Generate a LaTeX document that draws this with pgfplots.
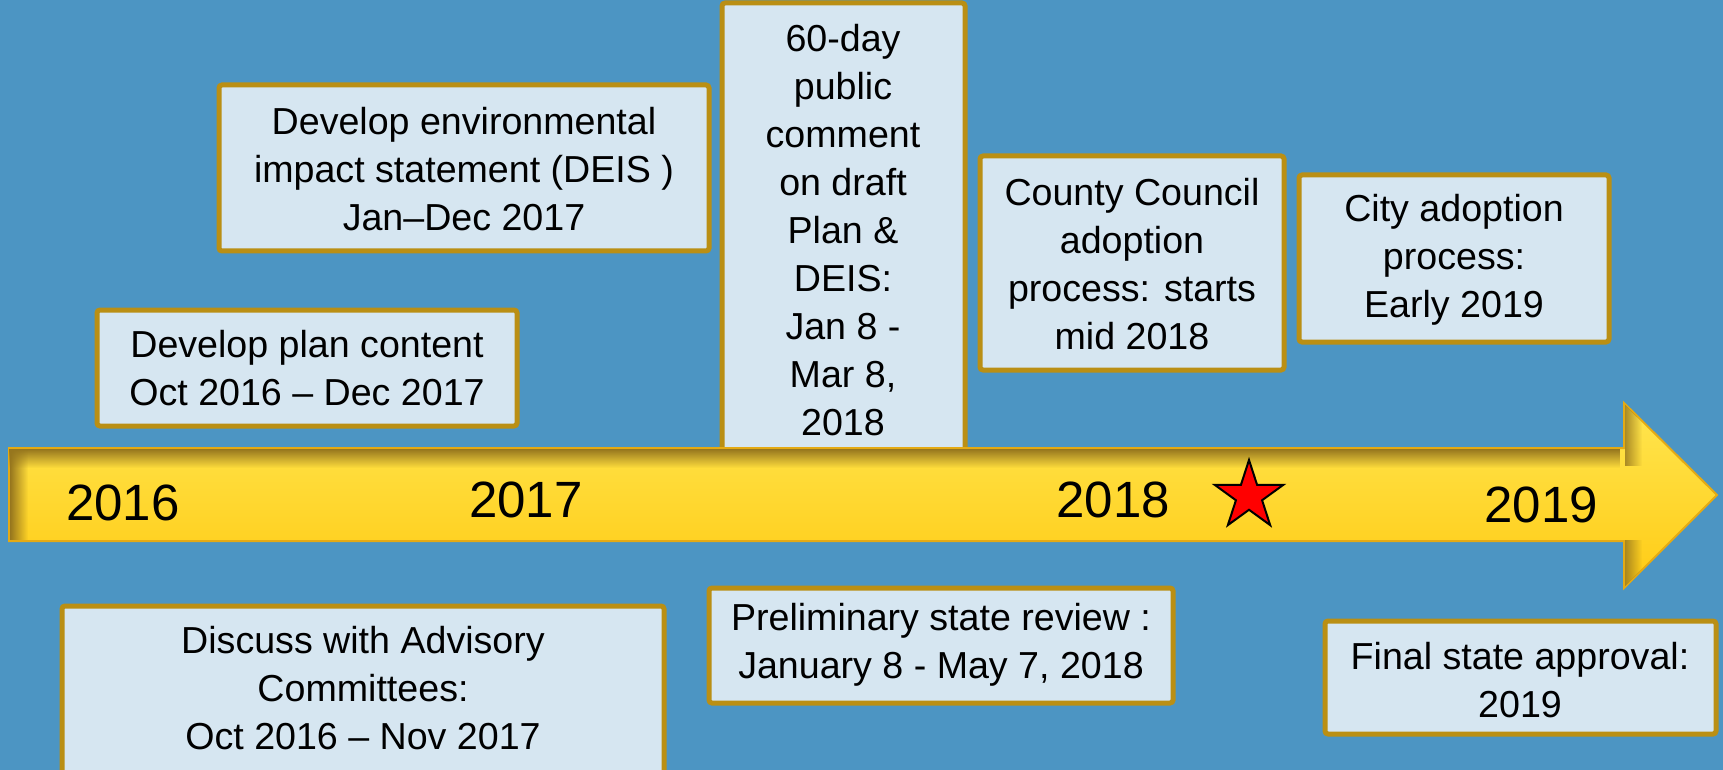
\documentclass[border=0pt]{standalone}
\usepackage{pgfplots}
\pgfplotsset{compat=1.18}
\usetikzlibrary{fadings}
\usepackage{fontspec}
\setmainfont{Liberation Sans}

\definecolor{bgblue}{RGB}{76,149,195}
\definecolor{boxfill}{RGB}{214,230,241}
\definecolor{boxedge}{RGB}{186,143,20}
\definecolor{arrowtop}{RGB}{255,230,80}
\definecolor{arrowbot}{RGB}{255,203,20}
\definecolor{arrowedge}{RGB}{228,170,20}
\definecolor{arrowshade}{RGB}{150,118,30}

% filled five-point star
\pgfdeclareplotmark{fstar}{%
  \pgfpathmoveto{\pgfpointpolar{90}{\pgfplotmarksize}}%
  \pgfpathlineto{\pgfpointpolar{126}{0.382\pgfplotmarksize}}%
  \pgfpathlineto{\pgfpointpolar{162}{\pgfplotmarksize}}%
  \pgfpathlineto{\pgfpointpolar{198}{0.382\pgfplotmarksize}}%
  \pgfpathlineto{\pgfpointpolar{234}{\pgfplotmarksize}}%
  \pgfpathlineto{\pgfpointpolar{270}{0.382\pgfplotmarksize}}%
  \pgfpathlineto{\pgfpointpolar{306}{\pgfplotmarksize}}%
  \pgfpathlineto{\pgfpointpolar{342}{0.382\pgfplotmarksize}}%
  \pgfpathlineto{\pgfpointpolar{18}{\pgfplotmarksize}}%
  \pgfpathlineto{\pgfpointpolar{54}{0.382\pgfplotmarksize}}%
  \pgfpathclose
  \pgfusepathqfillstroke}

\tikzset{
  tbox/.style={draw=boxedge, line width=2.5pt, fill=boxfill, rounded corners=1.5pt},
  txt/.style={font=\fontsize{18.8}{24}\selectfont, align=center, text=black},
  yr/.style={font=\fontsize{25.5}{28}\selectfont, text=black},
}

\begin{document}
\begin{tikzpicture}
\begin{axis}[
  scale only axis, width=861.5pt, height=385pt,
  xmin=0, xmax=1723, ymin=0, ymax=770, y dir=reverse,
  axis lines=none, ticks=none,
  axis background/.style={fill=bgblue},
  clip=true,
]
% boxes (pixel coordinates of the slide)
\addplot[tbox] coordinates {(219,85)(709,85)(709,251)(219,251)} -- cycle;
\addplot[tbox] coordinates {(97,310)(517,310)(517,426)(97,426)} -- cycle;
\addplot[tbox] coordinates {(722,3)(965,3)(965,470)(722,470)} -- cycle;
\addplot[tbox] coordinates {(980,156)(1284,156)(1284,370)(980,370)} -- cycle;
\addplot[tbox] coordinates {(1299,175)(1609,175)(1609,342)(1299,342)} -- cycle;
\addplot[tbox] coordinates {(62,606)(664,606)(664,790)(62,790)} -- cycle;
\addplot[tbox] coordinates {(709,588)(1173,588)(1173,703)(709,703)} -- cycle;
\addplot[tbox] coordinates {(1325,621)(1716,621)(1716,734)(1325,734)} -- cycle;

% timeline arrow
\addplot[draw=arrowedge, line width=1pt, top color=arrowtop, bottom color=arrowbot]
  coordinates {(9,448)(1624,448)(1624,403)(1717,495)(1624,588)(1624,541)(9,541)} -- cycle;
% inner shadows of the arrow
\addplot[draw=none, fill=arrowshade, path fading=south]
  coordinates {(10,449)(1623,449)(1623,468)(10,468)} -- cycle;
\addplot[draw=none, fill=arrowshade, path fading=east]
  coordinates {(10,449)(28,449)(28,540)(10,540)} -- cycle;
\addplot[draw=none, fill=arrowshade, path fading=east, opacity=0.8]
  coordinates {(1625,405)(1642,422)(1642,466)(1625,466)} -- cycle;
\addplot[draw=none, fill=arrowshade, path fading=east, opacity=0.8]
  coordinates {(1625,540)(1642,540)(1642,569)(1625,586)} -- cycle;

% today marker
\addplot[only marks, mark=fstar, mark size=18pt, mark options={fill=red, draw=black, line width=1pt}]
  coordinates {(1249,496)};

\node[yr] at (axis cs:123,503) {2016};
\node[yr] at (axis cs:526,500) {2017};
\node[yr] at (axis cs:1113,500) {2018};
\node[yr] at (axis cs:1541,505) {2019};

\node[txt] at (axis cs:464,169) {Develop environmental\\impact statement (DEIS )\\Jan–Dec 2017};
\node[txt] at (axis cs:307,368) {Develop plan content\\Oct 2016 – Dec 2017};
\node[txt] at (axis cs:843,230) {60-day\\public\\comment\\on draft\\Plan \&\\DEIS:\\Jan 8 -\\Mar 8,\\2018};
\node[txt] at (axis cs:1132,264) {County Council\\adoption\\process:  starts\\mid 2018};
\node[txt] at (axis cs:1454,260) {City adoption\\process:\\Early 2019};
\node[txt] at (axis cs:363,688) {Discuss with Advisory\\Committees:\\Oct 2016 – Nov 2017};
\node[txt] at (axis cs:941,645) {Preliminary state review :\\January 8 - May 7, 2018};
\node[txt] at (axis cs:1520,680) {Final state approval:\\2019};
\end{axis}
\pgfresetboundingbox
\path (current axis.south west) rectangle (current axis.north east);
\end{tikzpicture}
\end{document}
